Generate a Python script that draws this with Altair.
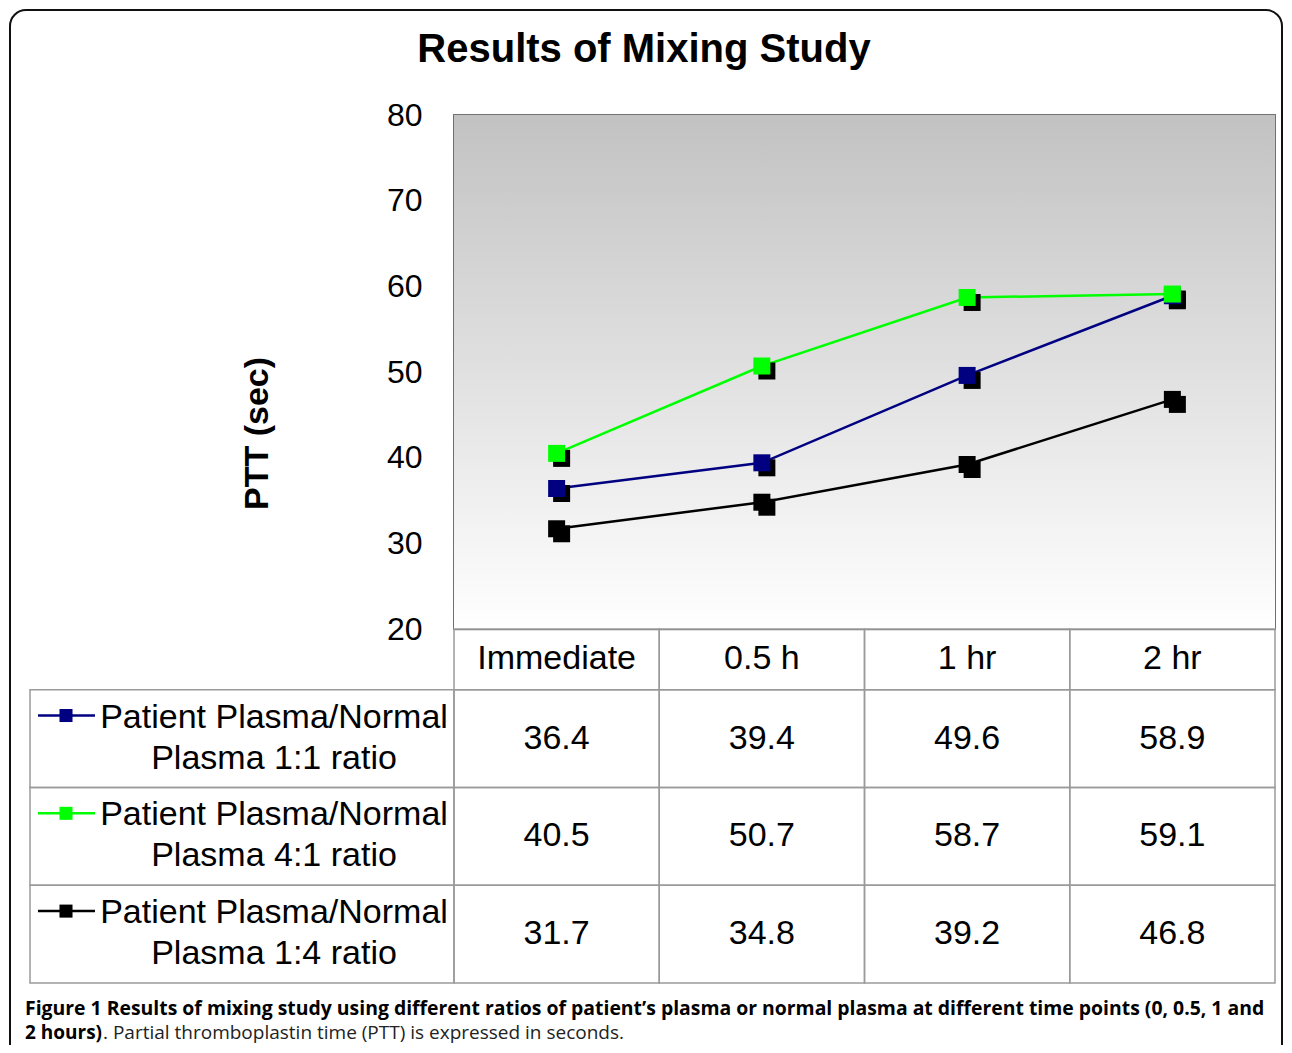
import altair as alt
import pandas as pd

# ---------------- data ----------------
times = ["Immediate", "0.5 h", "1 hr", "2 hr"]
series = [
    "Patient Plasma/Normal\nPlasma 1:1 ratio",
    "Patient Plasma/Normal\nPlasma 4:1 ratio",
    "Patient Plasma/Normal\nPlasma 1:4 ratio",
]
ratio_1_1 = [36.4, 39.4, 49.6, 58.9]
ratio_4_1 = [40.5, 50.7, 58.7, 59.1]
ratio_1_4 = [31.7, 34.8, 39.2, 46.8]
colors = ["#000080", "#00ff00", "#000000"]
y_ticks = [20, 30, 40, 50, 60, 70, 80]

title_text = "Results of Mixing Study"
y_title = "PTT (sec)"
caption_1 = ("Figure 1 Results of mixing study using different ratios of patient\u2019s plasma "
             "or normal plasma at different time points (0, 0.5, 1 and")
caption_2a = "2 hours)"
caption_2b = ". Partial thromboplastin time (PTT) is expressed in seconds."

# ---------------- tables ----------------
rows = []
for i, (name, vals) in enumerate(zip(series, [ratio_1_1, ratio_4_1, ratio_1_4])):
    for t, v in zip(times, vals):
        rows.append({"series": name, "time": t, "ptt": v,
                     "top": i, "bot": i + 1, "mid": i + 0.5})
df = pd.DataFrame(rows)
ser_df = pd.DataFrame({"series": series,
                       "top": list(range(3)),
                       "bot": [i + 1 for i in range(3)],
                       "mid": [i + 0.5 for i in range(3)]})
hdr_df = pd.DataFrame({"time": times, "top": [-0.62] * 4, "bot": [0] * 4, "mid": [-0.31] * 4})
one = pd.DataFrame({"k": [0]})

W, H = 821, 514
FONT = "Liberation Sans"

xscale = alt.Scale(type="band", domain=times, paddingInner=0, paddingOuter=0)
yscale = alt.Scale(domain=[20, 80], nice=False, zero=False)
tscale = alt.Scale(domain=[-0.62, 3], range=[514, 868], zero=False, nice=False)
cscale = alt.Scale(domain=series, range=colors)

X = alt.X("time:N", scale=xscale, axis=None)
C = alt.Color("series:N", scale=cscale, legend=None)

# ---------------- plot area ----------------
bg = alt.Chart(one).mark_rect(
    color=alt.Gradient(gradient="linear",
                       stops=[alt.GradientStop(color="#c2c2c2", offset=0),
                              alt.GradientStop(color="#ffffff", offset=1)],
                       x1=0, x2=0, y1=0, y2=1)
).encode(x=alt.value(0), x2=alt.value(W), y=alt.value(0), y2=alt.value(H))

base = alt.Chart(df)
Y = alt.Y("ptt:Q", scale=yscale,
          axis=alt.Axis(values=y_ticks, title=y_title, grid=True, gridColor="#7a7a7a",
                        gridWidth=1.5, ticks=False, domain=False, labelFont=FONT,
                        labelFontSize=32, labelColor="#000", labelPadding=32,
                        titleFont=FONT, titleFontSize=34, titleFontWeight="bold",
                        titleColor="#000", titleX=-197, titleY=318,
                        titleAngle=-90, titleBaseline="middle", titleAlign="center"))

shadows = base.mark_point(shape="square", filled=True, size=289, color="#000",
                          opacity=1, xOffset=5, yOffset=5).encode(x=X, y=Y)
lines = base.mark_line(strokeWidth=2.5).encode(x=X, y=Y, color=C, detail="series:N")
points = base.mark_point(shape="square", filled=True, size=289, opacity=1).encode(
    x=X, y=Y, color=C)

title = alt.Chart(one).mark_text(text=title_text, font=FONT, fontSize=40, fontWeight="bold",
                                 align="center", baseline="middle", color="#000").encode(
    x=alt.value(190), y=alt.value(-65))

frame = alt.Chart(one).mark_rect(fill="transparent", stroke="#111", strokeWidth=2,
                                 cornerRadius=16).encode(
    x=alt.value(-444), x2=alt.value(828), y=alt.value(-105), y2=alt.value(1000))

CAP = 19
cap1 = alt.Chart(one).mark_text(text=caption_1, font="Open Sans", fontSize=CAP + 0.4,
                                fontWeight="bold", align="left", baseline="middle",
                                color="#000").encode(x=alt.value(-429), y=alt.value(894))
cap2a = alt.Chart(one).mark_text(text=caption_2a, font="Open Sans", fontSize=CAP,
                                 fontWeight="bold", align="left", baseline="middle",
                                 color="#000").encode(x=alt.value(-429), y=alt.value(918))
cap2b = alt.Chart(one).mark_text(text=caption_2b, font="Open Sans", fontSize=CAP,
                                 align="left", baseline="middle",
                                 color="#222").encode(x=alt.value(-351), y=alt.value(918))

plot = alt.layer(frame, bg, lines, shadows, points, title, cap1, cap2a, cap2b)

# ---------------- data table ----------------
TY = lambda f: alt.Y(f"{f}:Q", scale=tscale, axis=None)
cell_style = dict(fill="transparent", stroke="#9a9a9a", strokeWidth=1.5)

data_cells = alt.Chart(df).mark_rect(**cell_style).encode(x=X, y=TY("top"), y2="bot")
hdr_cells = alt.Chart(hdr_df).mark_rect(**cell_style).encode(x=X, y=TY("top"), y2="bot")
lab_cells = alt.Chart(ser_df).mark_rect(**cell_style).encode(
    x=alt.value(-424), x2=alt.value(0), y=TY("top"), y2="bot")

val_text = alt.Chart(df).mark_text(font=FONT, fontSize=34, align="center",
                                   baseline="middle", color="#000").encode(
    x=X, y=TY("mid"), text=alt.Text("ptt:Q", format=".1f"))
hdr_text = alt.Chart(hdr_df).mark_text(font=FONT, fontSize=34, align="center",
                                       baseline="middle", color="#000").encode(
    x=X, y=TY("mid"), text="time:N")
lab_text = alt.Chart(ser_df).mark_text(font=FONT, fontSize=34, align="center",
                                       baseline="middle", color="#000", lineBreak="\n",
                                       lineHeight=41, yOffset=-21).encode(
    x=alt.value(-180), y=TY("mid"), text="series:N")
key_line = alt.Chart(ser_df).mark_rule(strokeWidth=2.5, yOffset=-23).encode(
    x=alt.value(-416), x2=alt.value(-359), y=TY("mid"), color=C)
key_pt = alt.Chart(ser_df).mark_point(shape="square", filled=True, size=170, opacity=1,
                                      yOffset=-23).encode(
    x=alt.value(-388), y=TY("mid"), color=C)

table = alt.layer(data_cells, hdr_cells, lab_cells, val_text, hdr_text, lab_text,
                  key_line, key_pt)

chart = alt.layer(plot, table).resolve_scale(y="independent").properties(
    width=W, height=H,
    autosize=alt.AutoSizeParams(type="none"),
    padding={"left": 446, "top": 107, "right": 9, "bottom": 416},
    background="white",
).configure_view(stroke="#707070", strokeWidth=2)

chart.save("out.html", embed_options={"renderer": "svg", "actions": False})
